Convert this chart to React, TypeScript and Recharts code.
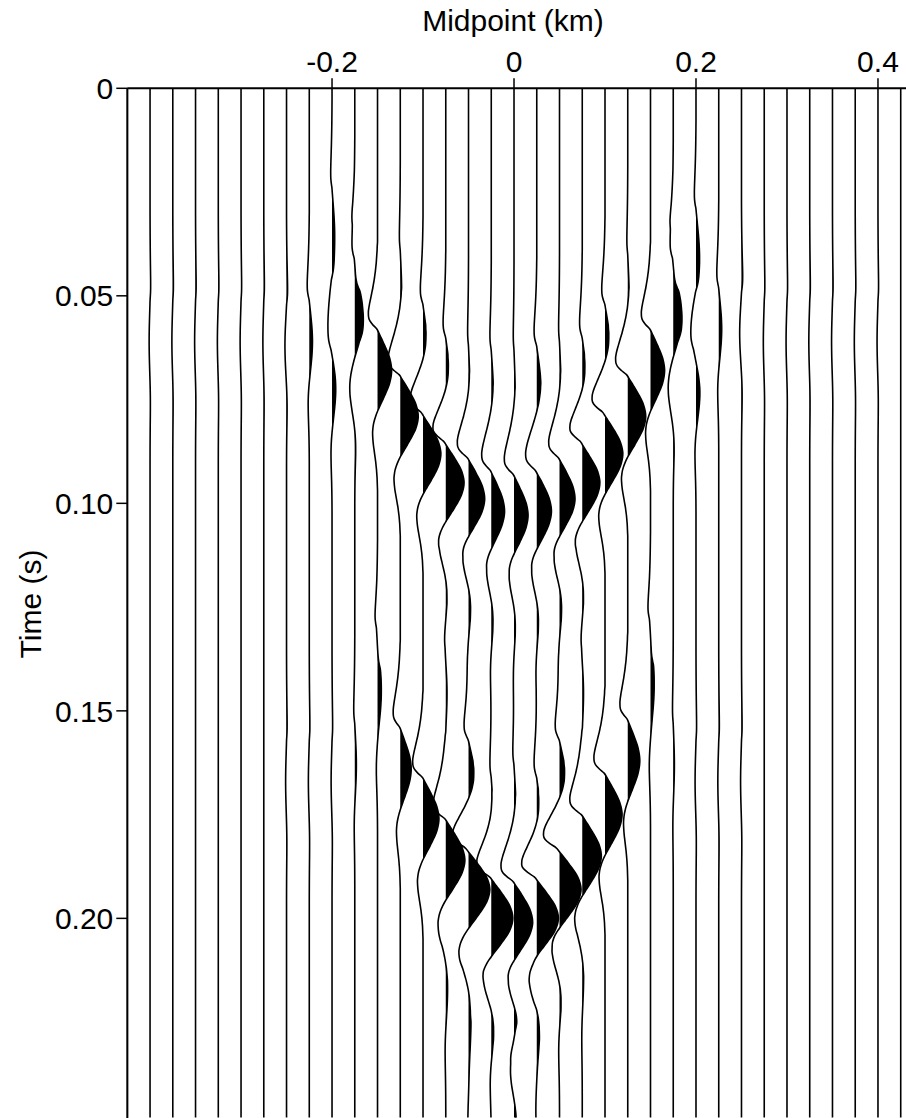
import { ComposedChart, Line, Area, XAxis, YAxis } from "recharts";

// trace positions (km)
const midpoints = [
  -0.425, -0.4, -0.375, -0.35, -0.325, -0.3, -0.275, -0.25, -0.225, -0.2,
  -0.175, -0.15, -0.125, -0.1, -0.075, -0.05, -0.025, 0, 0.025, 0.05,
  0.075, 0.1, 0.125, 0.15, 0.175, 0.2, 0.225, 0.25, 0.275, 0.3,
  0.325, 0.35, 0.375, 0.4, 0.425,
];

const xTicks = [-0.2, 0, 0.2, 0.4];
const yTicks = [0, 0.05, 0.1, 0.15, 0.2];
const yTickLabels = ["0", "0.05", "0.10", "0.15", "0.20"];

// wavelet, 1 ms samples from -30 ms to +30 ms
const wavelet = [
  -0.02, -0.03, -0.05, -0.07, -0.09, -0.12, -0.15, -0.19, -0.23, -0.28,
  -0.33, -0.39, -0.45, -0.51, -0.57, -0.62, -0.65, -0.64, -0.55, -0.33,
  -0.05, 0.1, 0.24, 0.38, 0.51, 0.64, 0.76, 0.86, 0.93, 0.98,
  1.0,
  0.98, 0.93, 0.86, 0.76, 0.64, 0.51, 0.38, 0.24, 0.11, -0.02,
  -0.13, -0.22, -0.29, -0.33, -0.35, -0.34, -0.32, -0.29, -0.25, -0.21,
  -0.17, -0.13, -0.1, -0.07, -0.05, -0.03, -0.02, -0.01, 0, 0,
];

const N = null;
// upper event: arrival time (s) and amplitude (in trace spacings) per trace
const upperTime = [
  N, N, N, N, N, N, N, N, N, N,
  0.059, 0.068, 0.079, 0.088, 0.095, 0.099, 0.102, 0.103, 0.102, 0.099,
  0.095, 0.088, 0.079, 0.068, 0.059,
  N, N, N, N, N, N, N, N, N, N,
];
const upperAmp = [
  N, N, N, N, N, N, N, N, N, N,
  0.25, 0.62, 0.79, 0.79, 0.82, 0.73, 0.6, 0.63, 0.66, 0.7,
  0.79, 0.79, 0.79, 0.62, 0.25,
  N, N, N, N, N, N, N, N, N, N,
];

// lower event
const lowerTime = [
  N, N, N, N, N, N, N, N, N, N, N, N,
  0.164, 0.176, 0.186, 0.193, 0.2, 0.201, 0.2, 0.193, 0.185, 0.175, 0.162,
  N, N, N, N, N, N, N, N, N, N, N, N,
];
const lowerAmp = [
  N, N, N, N, N, N, N, N, N, N, N, N,
  0.48, 0.7, 0.84, 0.95, 0.97, 0.84, 1.0, 0.97, 0.84, 0.75, 0.53,
  N, N, N, N, N, N, N, N, N, N, N, N,
];

// weaker arrivals: [trace, time (s), amplitude]
const minorEvents: [number, number, number][] = [
  [1, 0.061, -0.04], [2, 0.061, -0.04], [3, 0.061, -0.04], [4, 0.061, -0.04],
  [5, 0.061, -0.04], [6, 0.061, -0.04], [7, 0.062, -0.07], [8, 0.061, 0.14],
  [9, 0.034, 0.09], [9, 0.056, -0.1], [9, 0.073, 0.13],
  [10, 0.043, 0.1], [10, 0.051, 0.18], [10, 0.071, -0.12],
  [24, 0.044, 0.1], [24, 0.051, 0.18], [24, 0.071, -0.12],
  [25, 0.039, 0.11], [25, 0.059, -0.12], [25, 0.073, 0.13],
  [26, 0.058, 0.13], [27, 0.059, -0.08],
  [28, 0.061, -0.04], [29, 0.061, -0.04], [30, 0.061, -0.04], [31, 0.061, -0.04],
  [32, 0.061, -0.04], [33, 0.061, -0.04],
  // ahead of the upper event
  [12, 0.049, 0.06], [13, 0.062, 0.18], [14, 0.07, 0.18], [15, 0.072, 0.06],
  [16, 0.073, 0.09], [17, 0.073, 0.05], [18, 0.072, 0.18], [19, 0.071, 0.06],
  [20, 0.07, 0.18], [21, 0.062, 0.22], [22, 0.05, 0.06],
  // behind the upper event
  [14, 0.121, 0.08], [15, 0.123, 0.12], [16, 0.126, 0.1], [17, 0.127, 0.08],
  [18, 0.126, 0.1], [19, 0.123, 0.12], [20, 0.121, 0.08],
  // lower wings
  [10, 0.163, 0.07], [11, 0.14, 0.13], [11, 0.15, 0.13],
  [23, 0.138, 0.14], [23, 0.149, 0.14], [24, 0.163, 0.05],
  [7, 0.167, -0.04], [8, 0.167, -0.04], [9, 0.167, -0.04],
  [25, 0.167, -0.04], [26, 0.167, -0.04], [27, 0.167, -0.04],
  // ahead of the lower event
  [14, 0.145, 0.06], [15, 0.167, 0.3], [16, 0.176, 0.09], [17, 0.173, 0.08],
  [18, 0.176, 0.18], [19, 0.167, 0.29], [20, 0.145, 0.06],
  // behind the lower event
  [14, 0.217, 0.08], [15, 0.222, 0.13], [16, 0.225, 0.13], [17, 0.225, 0.13],
  [18, 0.221, 0.13], [19, 0.217, 0.1], [20, 0.214, 0.06],
  [15, 0.235, 0.08], [17, 0.237, -0.15], [18, 0.232, 0.1], [17, 0.245, 0.1],
];

const dt = 0.001;
const nSamples = 249;
const traceGain = 0.025; // one amplitude unit = one trace spacing
const font = "'Liberation Sans', Arial, Helvetica, sans-serif";

const traceValues = midpoints.map(() => new Array(nSamples).fill(0));
const half = (wavelet.length - 1) / 2;
function addArrival(k: number, t: number, a: number) {
  const c = Math.round(t / dt);
  wavelet.forEach((w, i) => {
    const j = c + i - half;
    if (j >= 0 && j < nSamples) traceValues[k][j] += a * w;
  });
}
upperTime.forEach((t, k) => {
  if (t != null) addArrival(k, t, upperAmp[k] as number);
});
lowerTime.forEach((t, k) => {
  if (t != null) addArrival(k, t, lowerAmp[k] as number);
});
minorEvents.forEach(([k, t, a]) => addArrival(k, t, a));

const rows = Array.from({ length: nSamples }, (_, j) => {
  const row: Record<string, any> = { t: j * dt };
  midpoints.forEach((m, k) => {
    const x = m + traceGain * traceValues[k][j];
    row[`w${k}`] = x;
    row[`f${k}`] = [m, Math.max(m, x)];
  });
  return row;
});

export default function App() {
  return (
    <div style={{ position: "absolute", left: 0, top: 0, width: 906, height: 1118, fontFamily: font }}>
      <ComposedChart
        width={906}
        height={1118}
        data={rows}
        layout="vertical"
        margin={{ top: 48.3, right: 0, bottom: 0, left: 67.3 }}
      >
        <XAxis
          type="number"
          orientation="top"
          domain={[-0.425, 0.4308]}
          allowDataOverflow
          ticks={xTicks}
          interval={0}
          height={40}
          tickSize={10}
          tickMargin={6}
          axisLine={{ stroke: "#000", strokeWidth: 2 }}
          tickLine={{ stroke: "#000", strokeWidth: 1.5 }}
          tick={{ fill: "#000", fontSize: 30, fontFamily: font }}
        />
        <YAxis
          type="number"
          dataKey="t"
          domain={[0, 0.2481]}
          allowDataOverflow
          ticks={yTicks}
          interval={0}
          width={60}
          tickSize={11}
          tickMargin={3}
          tickFormatter={(v: number) => yTickLabels[yTicks.indexOf(v)]}
          axisLine={{ stroke: "#000", strokeWidth: 2 }}
          tickLine={{ stroke: "#000", strokeWidth: 1.5 }}
          tick={{ fill: "#000", fontSize: 30, fontFamily: font }}
        />
        {midpoints.map((_, k) => (
          <Area
            key={`f${k}`}
            dataKey={`f${k}`}
            type="monotone"
            stroke="none"
            fill="#000"
            fillOpacity={1}
            dot={false}
            activeDot={false}
            isAnimationActive={false}
          />
        ))}
        {midpoints.map((_, k) => (
          <Line
            key={`w${k}`}
            dataKey={`w${k}`}
            type="monotone"
            stroke="#000"
            strokeWidth={1.6}
            dot={false}
            activeDot={false}
            isAnimationActive={false}
          />
        ))}
      </ComposedChart>
      <svg
        width={906}
        height={1118}
        style={{ position: "absolute", left: 0, top: 0, pointerEvents: "none" }}
      >
        <text x={513} y={31} textAnchor="middle" fontSize={30} fontFamily={font} fill="#000">
          Midpoint (km)
        </text>
        <text
          x={41}
          y={604}
          transform="rotate(-90 41 604)"
          textAnchor="middle"
          fontSize={30}
          fontFamily={font}
          fill="#000"
        >
          Time (s)
        </text>
      </svg>
    </div>
  );
}
